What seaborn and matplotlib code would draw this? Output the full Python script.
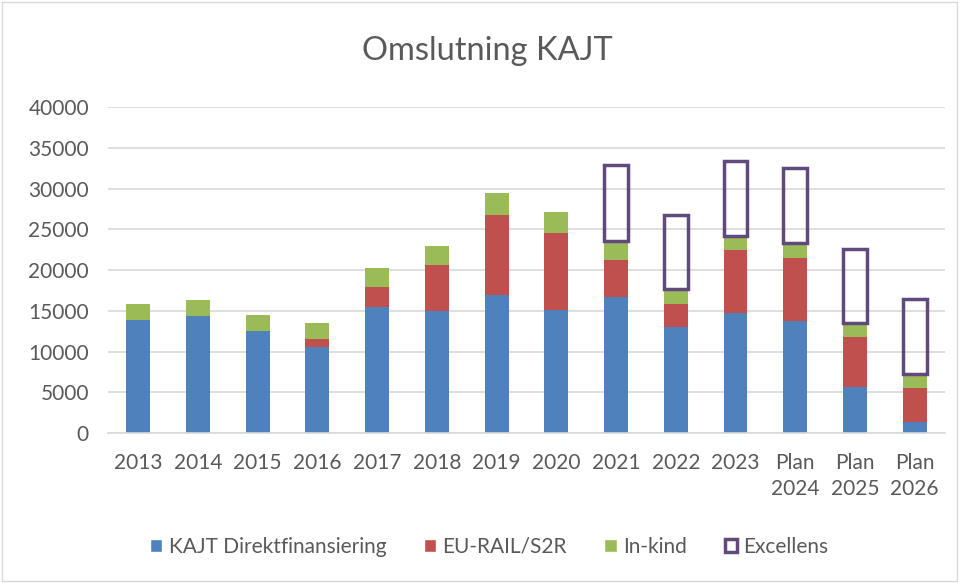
import pandas as pd
import matplotlib.pyplot as plt
import seaborn as sns
from matplotlib.patches import Patch, Rectangle

years = ["2013", "2014", "2015", "2016", "2017", "2018", "2019", "2020", "2021",
         "2022", "2023", "Plan\n2024", "Plan\n2025", "Plan\n2026"]
direkt = [13900, 14400, 12550, 10600, 15500, 14950, 16950, 15100, 16750,
          13050, 14700, 13700, 5700, 1350]
eurail = [0, 0, 0, 950, 2380, 5650, 9850, 9500, 4500, 2830, 7800, 7820, 6100, 4180]
inkind = [1900, 1900, 1900, 1950, 2350, 2380, 2650, 2500, 2300, 1800, 1680, 1760, 1680, 1760]
excellens = [0, 0, 0, 0, 0, 0, 0, 0, 9300, 9100, 9250, 9200, 9150, 9150]

df = pd.DataFrame({"year": years, "direkt": direkt, "eurail": eurail,
                   "inkind": inkind, "excellens": excellens})
df["b2"] = df["direkt"]
df["b3"] = df["direkt"] + df["eurail"]
df["b4"] = df["b3"] + df["inkind"]

blue, red, green, purple = "#4F81BD", "#C0504D", "#9BBB59", "#604A7B"
grey_txt = "#595959"

sns.set_theme(style="white")
plt.rcParams["font.family"] = ["Lato", "DejaVu Sans"]

fig = plt.figure(figsize=(9.59, 5.83), dpi=100)
ax = fig.add_axes([0.113, 0.257, 0.872, 0.5595])

w = 0.4
sns.barplot(data=df, x="year", y="direkt", color=blue, width=w, saturation=1, linewidth=0, ax=ax)
sns.barplot(data=df, x="year", y="eurail", bottom=df["b2"], color=red, width=w, saturation=1,
            linewidth=0, ax=ax)
sns.barplot(data=df, x="year", y="inkind", bottom=df["b3"], color=green, width=w, saturation=1,
            linewidth=0, ax=ax)
# Excellens: hollow boxes on top of the stack (only where > 0)
exc = df[df["excellens"] > 0]
sns.barplot(data=exc, x="year", y="excellens", bottom=exc["b4"].values, color=purple,
            facecolor="none", edgecolor=purple, linewidth=2.5, width=w, saturation=1,
            order=years, ax=ax)

ax.set_ylim(0, 40000)
ax.set_xlim(-0.5, 13.5)
ax.set_yticks(range(0, 40001, 5000))
ax.yaxis.grid(True, color="#D9D9D9", linewidth=1.2)
ax.set_axisbelow(True)
for s in ["left", "right", "top"]:
    ax.spines[s].set_visible(False)
ax.spines["bottom"].set_color("#D9D9D9")
ax.spines["bottom"].set_linewidth(1.2)
ax.tick_params(axis="y", length=0, pad=14, labelsize=15, labelcolor=grey_txt)
ax.tick_params(axis="x", length=0, pad=14, labelsize=15, labelcolor=grey_txt)
for lbl in ax.get_xticklabels():
    lbl.set_linespacing(1.4)
ax.set_xlabel("")
ax.set_ylabel("")

fig.text(0.508, 0.913, "Omslutning KAJT", ha="center", va="center", fontsize=23.5, color=grey_txt)

handles = [Patch(facecolor=blue, label="KAJT Direktfinansiering"),
           Patch(facecolor=red, label="EU-RAIL/S2R"),
           Patch(facecolor=green, label="In-kind"),
           Patch(facecolor="white", edgecolor=purple, linewidth=2.5, label="Excellens")]
leg = fig.legend(handles=handles, loc="center", bbox_to_anchor=(0.51, 0.062), ncol=4,
                 frameon=False, fontsize=15, handlelength=0.6, handleheight=0.6,
                 handletextpad=0.3, columnspacing=1.8)
for t in leg.get_texts():
    t.set_color(grey_txt)

fig.patches.append(Rectangle((0.002, 0.003), 0.996, 0.994, transform=fig.transFigure,
                             fill=False, edgecolor="#D9D9D9", linewidth=1))

fig.savefig("out.png", dpi=100)
